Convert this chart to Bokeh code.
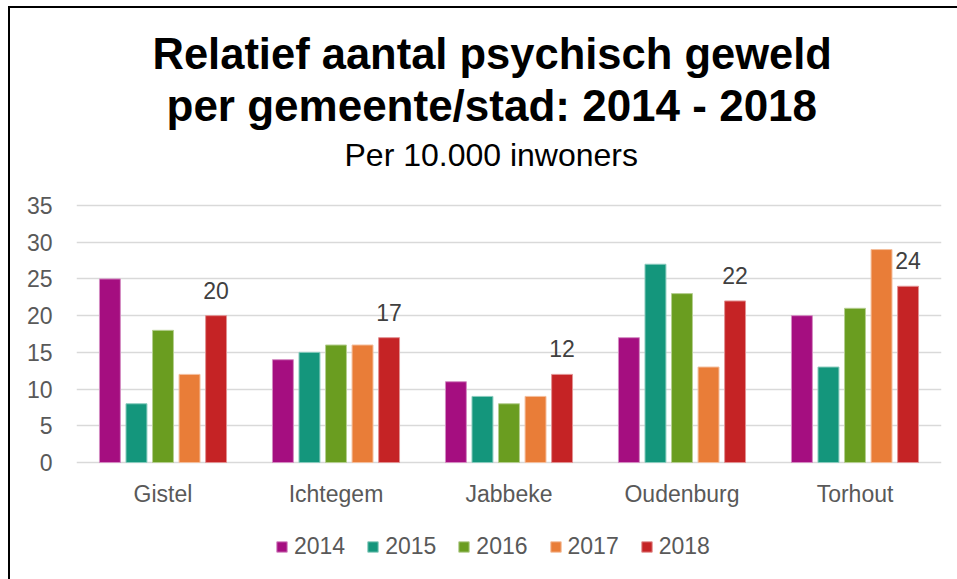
from bokeh.plotting import figure
from bokeh.models import (FactorRange, Range1d, FixedTicker, ColumnDataSource,
                          Legend, LegendItem, LabelSet, Title)
from bokeh.core.properties import value
from bokeh.transform import dodge
from bokeh.embed import file_html
from bokeh.resources import INLINE

cities = ["Gistel", "Ichtegem", "Jabbeke", "Oudenburg", "Torhout"]
years = ["2014", "2015", "2016", "2017", "2018"]
v2014 = [25, 14, 11, 17, 20]
v2015 = [8, 15, 9, 27, 13]
v2016 = [18, 16, 8, 23, 21]
v2017 = [12, 16, 9, 13, 29]
v2018 = [20, 17, 12, 22, 24]
y_ticks = [0, 5, 10, 15, 20, 25, 30, 35]

colors = ["#A50E80", "#14967C", "#6A9D20", "#E97D38", "#C52325"]
edge_colors = ["#D48BC2", "#8ACBBE", "#B5CE90", "#F4BE9C", "#E29192"]

FONT = "Liberation Sans"
GREY = "#595959"

# layout (pixels)
AXIS_PX = 257            # height of the 0..35 value band
HEAD_PX = 25             # empty band above the top gridline
FOOT_PX = 115            # band below zero for category names and legend
px_per_unit = AXIS_PX / max(y_ticks)

source = ColumnDataSource(dict(city=cities, y2014=v2014, y2015=v2015, y2016=v2016,
                               y2017=v2017, y2018=v2018,
                               lab=[str(v) for v in v2018]))

p = figure(frame_width=865, frame_height=AXIS_PX + HEAD_PX + FOOT_PX,
           x_range=FactorRange(*cities),
           y_range=Range1d(-FOOT_PX / px_per_unit, max(y_ticks) + HEAD_PX / px_per_unit),
           output_backend="svg", toolbar_location=None,
           min_border_left=66, min_border_right=16, min_border_top=172, min_border_bottom=2)
p.styles = {"border-left": "2px solid black", "border-top": "2px solid black",
            "margin-left": "8px", "margin-top": "6px"}
p.title = None
p.outline_line_color = None
p.background_fill_color = "white"
p.border_fill_color = "white"

step = 0.1534
width = 0.121
fields = ["y2014", "y2015", "y2016", "y2017", "y2018"]
renderers = []
for i, (f, c, ec) in enumerate(zip(fields, colors, edge_colors)):
    r = p.vbar(x=dodge("city", (i - 2) * step, range=p.x_range), top=f, bottom=0,
               width=width, source=source, fill_color=c, line_color=ec, line_width=1)
    renderers.append(r)

labels = LabelSet(x=dodge("city", 2 * step, range=p.x_range), y="y2018", text="lab",
                  source=source, text_align="center", text_baseline="alphabetic",
                  y_offset=17, text_font=value(FONT), text_font_size=value("23px"),
                  text_color="#404040")
p.add_layout(labels)

# axes
p.yaxis.ticker = FixedTicker(ticks=y_ticks)
p.yaxis.axis_line_color = None
p.yaxis.major_tick_line_color = None
p.yaxis.minor_tick_line_color = None
p.yaxis.major_label_standoff = 18
p.yaxis.major_label_text_font = FONT
p.yaxis.major_label_text_font_size = "23px"
p.yaxis.major_label_text_color = GREY

p.xaxis.fixed_location = 0
p.xaxis.axis_line_color = None
p.xaxis.major_tick_line_color = None
p.xaxis.minor_tick_line_color = None
p.xaxis.major_label_standoff = 12
p.xaxis.major_label_text_font = FONT
p.xaxis.major_label_text_font_size = "23px"
p.xaxis.major_label_text_color = GREY

p.xgrid.grid_line_color = None
p.ygrid.ticker = FixedTicker(ticks=y_ticks)
p.ygrid.grid_line_color = "#D9D9D9"
p.ygrid.grid_line_width = 1.5

# titles (added nearest-first)
p.add_layout(Title(text="Per 10.000 inwoners", align="left", offset=268, text_font=FONT,
                   text_font_size="32px", text_font_style="normal", text_color="#000000",
                   standoff=16), "above")
p.add_layout(Title(text="per gemeente/stad: 2014 - 2018", align="left", offset=90,
                   text_font=FONT, text_font_size="44px", text_font_style="bold",
                   text_color="#000000", standoff=-6), "above")
p.add_layout(Title(text="Relatief aantal psychisch geweld", align="left", offset=76,
                   text_font=FONT, text_font_size="43.5px", text_font_style="bold",
                   text_color="#000000", standoff=7), "above")

legend = Legend(items=[LegendItem(label=y, renderers=[r]) for y, r in zip(years, renderers)],
                orientation="horizontal", location=(199, 17), border_line_color=None,
                background_fill_alpha=0, label_text_font=FONT, label_text_font_size="23px",
                label_text_color=GREY, glyph_width=13, glyph_height=13, label_height=22,
                label_standoff=6, spacing=21, padding=0, margin=0)
p.add_layout(legend, "center")

open("out.html", "w").write(file_html(p, INLINE))
